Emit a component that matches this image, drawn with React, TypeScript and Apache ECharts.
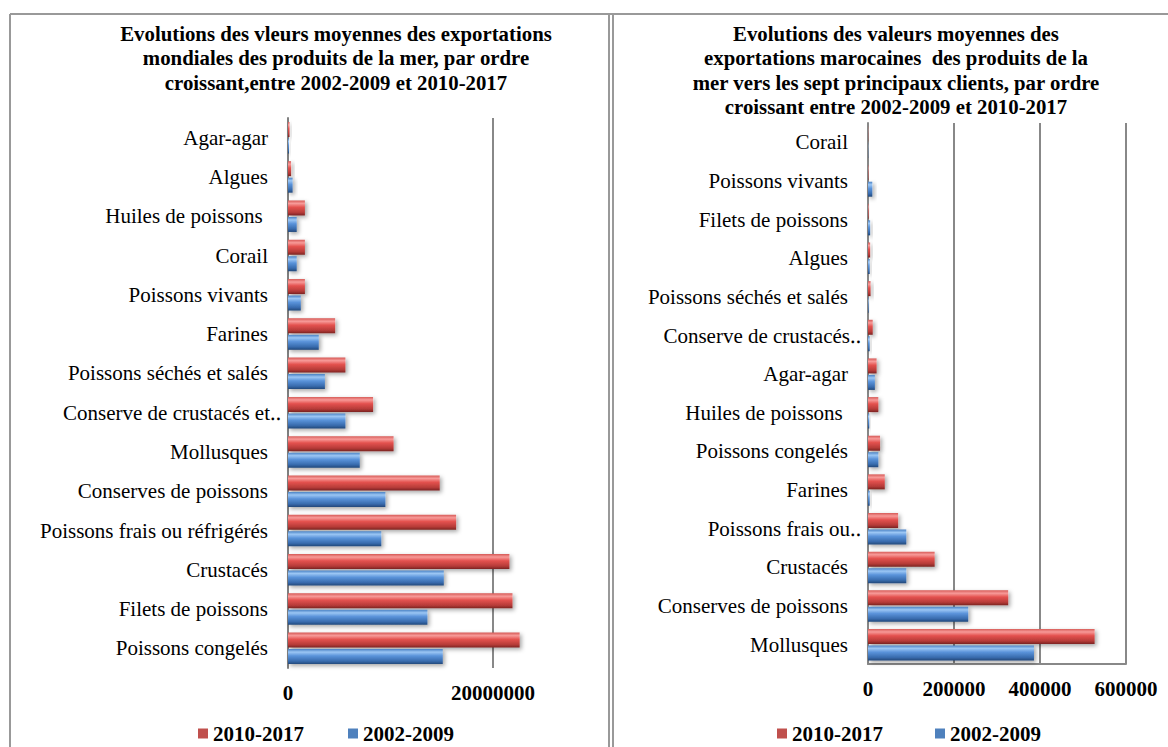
import React, { useEffect, useRef } from 'react';
import * as echarts from 'echarts';

const worldCategories = [
  'Agar-agar', 'Algues', 'Huiles de poissons ', 'Corail', 'Poissons vivants', 'Farines',
  'Poissons séchés et salés', 'Conserve de crustacés et‥', 'Mollusques', 'Conserves de poissons',
  'Poissons frais ou réfrigérés', 'Crustacés', 'Filets de poissons', 'Poissons congelés',
];
const world2010 = [150000, 300000, 1650000, 1650000, 1650000, 4600000, 5600000, 8300000, 10300000, 14800000, 16400000, 21600000, 21900000, 22600000];
const world2002 = [100000, 450000, 850000, 850000, 1250000, 3000000, 3600000, 5600000, 7000000, 9500000, 9100000, 15200000, 13600000, 15100000];
const worldTicks = [0, 20000000];

const marocCategories = [
  'Corail', 'Poissons vivants', 'Filets de poissons', 'Algues', 'Poissons séchés et salés',
  'Conserve de crustacés‥', 'Agar-agar', 'Huiles de poissons ', 'Poissons congelés', 'Farines',
  'Poissons frais ou‥', 'Crustacés', 'Conserves de poissons', 'Mollusques',
];
const maroc2010 = [500, 1000, 1500, 5000, 6000, 11000, 20000, 24000, 28000, 39000, 70000, 155000, 326000, 527000];
const maroc2002 = [500, 10000, 5000, 4000, 1500, 4000, 16000, 3000, 24000, 4000, 89000, 89000, 233000, 386000];
const marocTicks = [0, 200000, 400000, 600000];

const seriesNames = ['2010-2017', '2002-2009'];

const leftTitle = 'Evolutions des vleurs moyennes des exportations\nmondiales des produits de la mer, par ordre\ncroissant,entre 2002-2009 et 2010-2017';
const rightTitle = 'Evolutions des valeurs moyennes des\nexportations marocaines  des produits de la\nmer vers les sept principaux clients, par ordre\ncroissant entre 2002-2009 et 2010-2017';

const FONT = 'Liberation Serif';

const redGrad = new echarts.graphic.LinearGradient(0, 0, 0, 1, [
  { offset: 0, color: '#d65a57' },
  { offset: 0.2, color: '#f79a98' },
  { offset: 0.45, color: '#e4524f' },
  { offset: 0.8, color: '#b63b38' },
  { offset: 1, color: '#7c2422' },
]);
const blueGrad = new echarts.graphic.LinearGradient(0, 0, 0, 1, [
  { offset: 0, color: '#4a82c4' },
  { offset: 0.2, color: '#9bc6f4' },
  { offset: 0.45, color: '#5a93da' },
  { offset: 0.8, color: '#386bad' },
  { offset: 1, color: '#22487a' },
]);

const barItem = (grad: any) => ({
  color: grad,
  shadowBlur: 4,
  shadowColor: 'rgba(0,0,0,0.35)',
  shadowOffsetX: 2,
  shadowOffsetY: 2,
});

// truncated labels overflow past the right alignment edge, as in the original
const catData = (cats: string[]) =>
  cats.map((c) => (c.endsWith('‥') ? { value: c, textStyle: { padding: [0, -13, 0, 0] } } : c));

export default function App() {
  const ref = useRef<HTMLDivElement>(null);
  useEffect(() => {
    document.body.style.margin = '0';
    const chart = echarts.init(ref.current!, null, { renderer: 'svg' });
    const catLabel = { fontFamily: FONT, fontSize: 21, color: '#000', margin: 20 };
    const valLabel = { fontFamily: FONT, fontSize: 21, fontWeight: 'bold', color: '#000' };
    const titleStyle = { fontFamily: FONT, fontSize: 20.8, fontWeight: 'bold', color: '#000', lineHeight: 24.5 };
    const legendText = { fontFamily: FONT, fontSize: 21, fontWeight: 'bold', color: '#000' };
    chart.setOption({
      animation: false,
      backgroundColor: '#fff',
      title: [
        { text: leftTitle, left: 331, top: 16, textAlign: 'center', textStyle: titleStyle },
        { text: rightTitle, left: 891, top: 16, textAlign: 'center', textStyle: titleStyle },
      ],
      legend: [
        {
          data: [
            { name: seriesNames[0], itemStyle: { color: '#c0504d' } },
            { name: seriesNames[1], itemStyle: { color: '#4f81bd' } },
          ],
          left: 193, top: 718, icon: 'rect', itemWidth: 10, itemHeight: 10, itemGap: 44,
          textStyle: legendText, selectedMode: false,
        },
        {
          data: [
            { name: seriesNames[0], itemStyle: { color: '#c0504d' } },
            { name: seriesNames[1], itemStyle: { color: '#4f81bd' } },
          ],
          left: 772, top: 718, icon: 'rect', itemWidth: 10, itemHeight: 10, itemGap: 52,
          textStyle: legendText, selectedMode: false,
        },
      ],
      grid: [
        { left: 288, top: 118, width: 266.5, height: 550 },
        { left: 868, top: 123, width: 258, height: 541 },
      ],
      xAxis: [
        {
          gridIndex: 0, type: 'value', min: 0, max: 26000000, interval: worldTicks[1] - worldTicks[0],
          axisLine: { show: false }, axisTick: { show: false },
          axisLabel: {
            ...valLabel, margin: 14, showMaxLabel: false,
            formatter: (v: number) => (worldTicks.includes(v) ? String(v) : ''),
          },
          splitLine: { show: true, showMinLine: false, showMaxLine: false, lineStyle: { color: '#888', width: 2 } },
        },
        {
          gridIndex: 1, type: 'value', min: 0, max: marocTicks[marocTicks.length - 1], interval: marocTicks[1] - marocTicks[0],
          axisLine: { show: true, onZero: false, lineStyle: { color: '#888', width: 2 } }, axisTick: { show: false },
          axisLabel: { ...valLabel, margin: 14, formatter: (v: number) => String(v) },
          splitLine: { show: true, showMinLine: false, lineStyle: { color: '#888', width: 2 } },
        },
      ],
      yAxis: [
        {
          gridIndex: 0, type: 'category', data: catData(worldCategories), inverse: true,
          axisLine: { show: true, lineStyle: { color: '#808080', width: 2 } }, axisTick: { show: false },
          axisLabel: catLabel,
        },
        {
          gridIndex: 1, type: 'category', data: catData(marocCategories), inverse: true,
          axisLine: { show: true, lineStyle: { color: '#888', width: 2 } }, axisTick: { show: false },
          axisLabel: catLabel,
        },
      ],
      series: [
        { name: seriesNames[0], type: 'bar', xAxisIndex: 0, yAxisIndex: 0, data: world2010, barWidth: 15, barGap: '10%', itemStyle: barItem(redGrad) },
        { name: seriesNames[1], type: 'bar', xAxisIndex: 0, yAxisIndex: 0, data: world2002, barWidth: 15, barGap: '10%', itemStyle: barItem(blueGrad) },
        { name: seriesNames[0], type: 'bar', xAxisIndex: 1, yAxisIndex: 1, data: maroc2010, barWidth: 15, barGap: '10%', itemStyle: barItem(redGrad) },
        { name: seriesNames[1], type: 'bar', xAxisIndex: 1, yAxisIndex: 1, data: maroc2002, barWidth: 15, barGap: '10%', itemStyle: barItem(blueGrad) },
      ],
      graphic: [
        { type: 'line', shape: { x1: 10, y1: 14, x2: 1168, y2: 14 }, style: { stroke: '#999', lineWidth: 2 } },
        { type: 'line', shape: { x1: 10, y1: 14, x2: 10, y2: 747 }, style: { stroke: '#999', lineWidth: 2 } },
        { type: 'line', shape: { x1: 609, y1: 14, x2: 609, y2: 747 }, style: { stroke: '#999', lineWidth: 2 } },
        { type: 'line', shape: { x1: 613, y1: 14, x2: 613, y2: 747 }, style: { stroke: '#999', lineWidth: 2 } },
      ],
    });
    return () => chart.dispose();
  }, []);
  return <div ref={ref} style={{ width: 1168, height: 747 }} />;
}
